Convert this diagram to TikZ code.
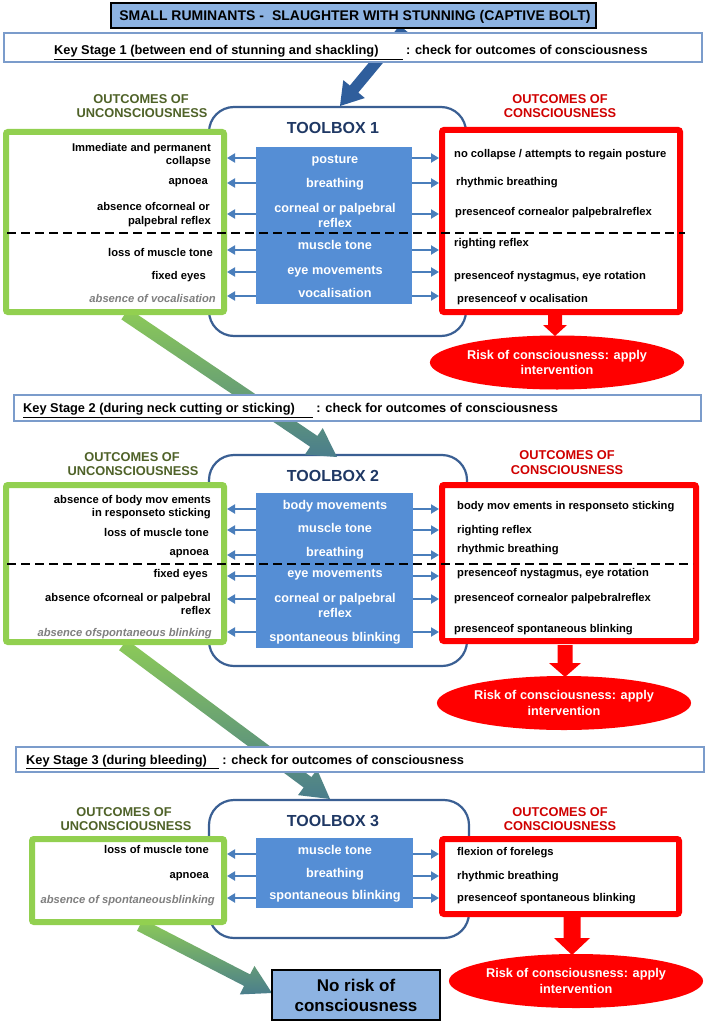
\documentclass[tikz,border=0pt]{standalone}
\usepackage{fontspec}
\setmainfont{Liberation Sans}
\usetikzlibrary{arrows.meta,shapes.geometric,calc}
\definecolor{tbblue}{HTML}{3A5F93}
\definecolor{navy}{HTML}{1F3864}
\definecolor{fillblue}{HTML}{558ED5}
\definecolor{arrblue}{HTML}{4A7EBB}
\definecolor{lgreen}{HTML}{92D050}
\definecolor{dgreen}{HTML}{4F6228}
\definecolor{hred}{HTML}{D00000}
\definecolor{boxred}{HTML}{FF0000}
\definecolor{titlefill}{HTML}{8DB3E2}
\definecolor{ksline}{HTML}{7B9CCB}
\definecolor{bigblue}{HTML}{2F5E9C}
\definecolor{agreen}{HTML}{8DCB57}
\definecolor{arrteal}{HTML}{4A7D8C}
\definecolor{gtext}{HTML}{7F7F7F}
\newcommand{\myfs}[1]{\fontsize{#1}{#1}\selectfont\bfseries}
% #1 options, #2 from, #3 to, #4 shaft half width, #5 head half width, #6 head length
\newcommand{\fatarrow}[6]{%
  \coordinate (fa-c) at ($(#3)!#6!(#2)$);
  \path[#1] ($(#2)!#4!90:(#3)$) -- ($(fa-c)!#4!90:(#3)$) -- ($(fa-c)!#5!90:(#3)$) -- (#3)
    -- ($(fa-c)!#5!-90:(#3)$) -- ($(fa-c)!#4!-90:(#3)$) -- ($(#2)!#4!-90:(#3)$) -- cycle;}
\tikzset{
  ltxt/.style={inner sep=0, anchor=base east, yshift=-4pt, font=\myfs{11.2}},
  rtxt/.style={inner sep=0, anchor=base west, yshift=-4pt, font=\myfs{11.2}},
  gtxt/.style={inner sep=0, anchor=base east, yshift=-4pt, font=\myfs{11.2}\itshape, text=gtext},
  blbl/.style={inner sep=0, anchor=base, yshift=-4.5pt, font=\myfs{12.7}, text=white},
  hdg/.style={inner sep=0, anchor=base, yshift=-4.6pt, font=\myfs{12.8}, text=dgreen},
  hdr/.style={inner sep=0, anchor=base, yshift=-4.6pt, font=\myfs{12.8}, text=hred},
  tbt/.style={inner sep=0, anchor=base, yshift=-5.7pt, font=\myfs{16}, text=navy},
  kst/.style={inner sep=0, anchor=base west, yshift=-4.6pt, font=\myfs{12.8}},
  tbox/.style={draw=tbblue, line width=2.2pt, rounded corners=25pt, fill=white, inner sep=0},
  bluerect/.style={fill=fillblue, inner sep=0},
  gbox/.style={draw=lgreen, line width=6pt, fill=white, rounded corners=2pt, inner sep=0},
  rbox/.style={draw=boxred, line width=6pt, fill=white, rounded corners=2pt, inner sep=0},
  ksbox/.style={draw=ksline, line width=2pt, fill=white, inner sep=0},
  sarr/.style={draw=arrblue, line width=2.4pt, -{Triangle[width=9pt,length=8pt]}},
  dline/.style={draw=black, line width=2.5pt, dash pattern=on 9pt off 5pt},
  risk/.style={ellipse, fill=boxred, text=white, font=\myfs{12.7}, align=center, inner sep=0,
    minimum width=234pt, minimum height=54pt},
  darkbox/.style={draw=black, line width=2pt, fill=titlefill, inner sep=0},
  greenshade/.style={top color=agreen, bottom color=arrteal},
}
\begin{document}
\begin{tikzpicture}[x=1pt,y=-1pt]
\useasboundingbox (0,0) rectangle (709,1024);
\fill[white] (0,0) rectangle (709,1024);

% toolboxes
\node[tbox, minimum width=257pt, minimum height=229pt] (t1) at (337.5,221.5) {};
\node[tbox, minimum width=258pt, minimum height=211pt] (t2) at (338,560.5) {};
\node[tbox, minimum width=260pt, minimum height=138pt] (t3) at (339,869) {};

% big arrows
\coordinate (bs) at (404,29);
\coordinate (bt) at (340,106);
\fatarrow{fill=bigblue}{bs}{bt}{5.5pt}{14pt}{22pt}
\coordinate (g1s) at (125,314);
\coordinate (g1t) at (337,457);
\fatarrow{greenshade}{g1s}{g1t}{6.5pt}{16pt}{28pt}
\coordinate (g2s) at (123,645);
\coordinate (g2t) at (330,799);
\fatarrow{greenshade}{g2s}{g2t}{6.5pt}{16pt}{28pt}
\coordinate (g3s) at (140,925);
\coordinate (g3t) at (272,993);
\fatarrow{greenshade}{g3s}{g3t}{6.5pt}{16pt}{28pt}

% title and key stage boxes
\node[darkbox, minimum width=485pt, minimum height=25pt] (title) at (353.5,15.5) {};
\node[inner sep=0, anchor=base, yshift=-5pt, font=\myfs{14}] (titlet) at (355,16)
  {SMALL RUMINANTS -\hspace{8pt}SLAUGHTER WITH STUNNING (CAPTIVE BOLT)};
\node[ksbox, minimum width=698pt, minimum height=29pt] (ks1) at (352.5,47.5) {};
\node[kst] (ks1t) at (54,50)
  {\underline{Key Stage 1 (between end of stunning and shackling)\hspace*{24pt}} : check for outcomes of consciousness};
\node[ksbox, minimum width=687pt, minimum height=26pt] (ks2) at (357.5,408) {};
\node[kst] (ks2t) at (23,408)
  {\underline{Key Stage 2 (during neck cutting or sticking)\hspace*{18pt}} : check for outcomes of consciousness};
\node[ksbox, minimum width=688pt, minimum height=25pt] (ks3) at (360,759.5) {};
\node[kst] (ks3t) at (26,759.5)
  {\underline{Key Stage 3 (during bleeding)\hspace*{12pt}} : check for outcomes of consciousness};

% outcome boxes
\node[gbox, minimum width=218pt, minimum height=180pt] (g1) at (115,222) {};
\node[gbox, minimum width=218pt, minimum height=157pt] (g2) at (115,563.5) {};
\node[gbox, minimum width=192pt, minimum height=83pt] (g3) at (128,880.5) {};
\node[rbox, minimum width=238pt, minimum height=182pt] (r1) at (561,221) {};
\node[rbox, minimum width=254pt, minimum height=156pt] (r2) at (569,563) {};
\node[rbox, minimum width=237pt, minimum height=75pt] (r3) at (560.5,876.5) {};

% blue tool rectangles
\node[bluerect, minimum width=156pt, minimum height=157pt] (b1) at (334,225.5) {};
\node[bluerect, minimum width=157pt, minimum height=155pt] (b2) at (334.5,570.5) {};
\node[bluerect, minimum width=157pt, minimum height=70pt] (b3) at (334.5,873) {};

% headers
\node[hdg] (gh1a) at (141,99) {OUTCOMES OF};
\node[hdg] (gh1b) at (142,113) {UNCONSCIOUSNESS};
\node[hdr] (rh1a) at (560,99) {OUTCOMES OF};
\node[hdr] (rh1b) at (560,113) {CONSCIOUSNESS};
\node[hdg] (gh2a) at (132,457) {OUTCOMES OF};
\node[hdg] (gh2b) at (133,471) {UNCONSCIOUSNESS};
\node[hdr] (rh2a) at (567,455) {OUTCOMES OF};
\node[hdr] (rh2b) at (567,470) {CONSCIOUSNESS};
\node[hdg] (gh3a) at (124,812) {OUTCOMES OF};
\node[hdg] (gh3b) at (126,826) {UNCONSCIOUSNESS};
\node[hdr] (rh3a) at (560,812) {OUTCOMES OF};
\node[hdr] (rh3b) at (560,826) {CONSCIOUSNESS};
\node[tbt] (tb1t) at (333,128) {TOOLBOX 1};
\node[tbt] (tb2t) at (333,476) {TOOLBOX 2};
\node[tbt] (tb3t) at (333,821) {TOOLBOX 3};

% small arrows
\foreach \yy in {158,183,214,250,272,296} {
  \draw[sarr] (b1.west |- 0,\yy) -- (g1.east |- 0,\yy);
  \draw[sarr] (b1.east |- 0,\yy) -- (r1.west |- 0,\yy);
}
\foreach \yy in {509,530,555,576,599,632} {
  \draw[sarr] (b2.west |- 0,\yy) -- (g2.east |- 0,\yy);
  \draw[sarr] (b2.east |- 0,\yy) -- (r2.west |- 0,\yy);
}
\foreach \yy in {854,876,898} {
  \draw[sarr] (b3.west |- 0,\yy) -- (g3.east |- 0,\yy);
  \draw[sarr] (b3.east |- 0,\yy) -- (r3.west |- 0,\yy);
}

% blue labels
\node[blbl] (b1a) at (335,159) {posture};
\node[blbl] (b1b) at (335,183) {breathing};
\node[blbl] (b1c) at (335,208) {corneal or palpebral};
\node[blbl] (b1d) at (335,223) {reflex};
\node[blbl] (b1e) at (335,245) {muscle tone};
\node[blbl] (b1f) at (335,270) {eye movements};
\node[blbl] (b1g) at (335,293) {vocalisation};
\node[blbl] (b2a) at (335,505) {body movements};
\node[blbl] (b2b) at (335,528) {muscle tone};
\node[blbl] (b2c) at (335,552) {breathing};
\node[blbl] (b2d) at (335,573) {eye movements};
\node[blbl] (b2e) at (335,598) {corneal or palpebral};
\node[blbl] (b2f) at (335,613) {reflex};
\node[blbl] (b2g) at (335,637) {spontaneous blinking};
\node[blbl] (b3a) at (335,850) {muscle tone};
\node[blbl] (b3b) at (335,873) {breathing};
\node[blbl] (b3c) at (335,895) {spontaneous blinking};

% left texts
\node[ltxt] (l1a) at (211,148) {Immediate and permanent};
\node[ltxt] (l1b) at (211,161) {collapse};
\node[ltxt] (l1c) at (208,181) {apnoea};
\node[ltxt] (l1d) at (210,207) {absence ofcorneal or};
\node[ltxt] (l1e) at (211,221) {palpebral reflex};
\node[ltxt] (l1f) at (213,252) {loss of muscle tone};
\node[ltxt] (l1g) at (206,275) {fixed eyes};
\node[gtxt] (l1h) at (216,298) {absence of vocalisation};
\node[ltxt] (l2a) at (211,499) {absence of body mov ements};
\node[ltxt] (l2b) at (211,512) {in responseto sticking};
\node[ltxt] (l2c) at (209,532) {loss of muscle tone};
\node[ltxt] (l2d) at (209,551) {apnoea};
\node[ltxt] (l2e) at (208,573) {fixed eyes};
\node[ltxt] (l2f) at (211,597) {absence ofcorneal or palpebral};
\node[ltxt] (l2g) at (211,610) {reflex};
\node[gtxt] (l2h) at (212,632) {absence ofspontaneous blinking};
\node[ltxt] (l3a) at (209,849) {loss of muscle tone};
\node[ltxt] (l3b) at (209,874) {apnoea};
\node[gtxt] (l3c) at (215,899) {absence of spontaneousblinking};

% right texts
\node[rtxt] (r1a) at (454,154) {no collapse / attempts to regain posture};
\node[rtxt] (r1b) at (456,182) {rhythmic breathing};
\node[rtxt] (r1c) at (455,212) {presenceof cornealor palpebralreflex};
\node[rtxt] (r1d) at (454,243) {righting reflex};
\node[rtxt] (r1e) at (454,275) {presenceof nystagmus, eye rotation};
\node[rtxt] (r1f) at (457,298) {presenceof v ocalisation};
\node[rtxt] (r2a) at (457,505) {body mov ements in responseto sticking};
\node[rtxt] (r2b) at (457,529) {righting reflex};
\node[rtxt] (r2c) at (457,548) {rhythmic breathing};
\node[rtxt] (r2d) at (457,572) {presenceof nystagmus, eye rotation};
\node[rtxt] (r2e) at (454,597) {presenceof cornealor palpebralreflex};
\node[rtxt] (r2f) at (454,628) {presenceof spontaneous blinking};
\node[rtxt] (r3a) at (457,851) {flexion of forelegs};
\node[rtxt] (r3b) at (457,875) {rhythmic breathing};
\node[rtxt] (r3c) at (457,897) {presenceof spontaneous blinking};

% dashed separators
\coordinate (d1s) at (7,233);
\coordinate (d1e) at (685,233);
\draw[dline] (d1s) -- (d1e);
\coordinate (d2s) at (7,564);
\coordinate (d2e) at (693,564);
\draw[dline] (d2s) -- (d2e);

% risk ellipses and red arrows
\node[risk] (e1) at (557,362.5) {Risk of consciousness: apply\\[2.5pt]intervention};
\node[risk] (e2) at (564,703) {Risk of consciousness: apply\\[2.5pt]intervention};
\node[risk] (e3) at (576,981) {Risk of consciousness: apply\\[2.5pt]intervention};
\coordinate (a1s) at (555,315);
\coordinate (a1t) at (555,336);
\fatarrow{fill=boxred}{a1s}{a1t}{7pt}{12pt}{11pt}
\coordinate (a2s) at (565,645);
\coordinate (a2t) at (565,677);
\fatarrow{fill=boxred}{a2s}{a2t}{7.5pt}{16pt}{14pt}
\coordinate (a3s) at (572,917);
\coordinate (a3t) at (572,955);
\fatarrow{fill=boxred}{a3s}{a3t}{8.5pt}{18pt}{17pt}

% final box
\node[darkbox, minimum width=168pt, minimum height=50pt] (norisk) at (356,995) {};
\node[inner sep=0, anchor=base, yshift=-6pt, font=\myfs{17}] (nr1) at (356,985) {No risk of};
\node[inner sep=0, anchor=base, yshift=-6pt, font=\myfs{17}] (nr2) at (356,1005) {consciousness};
\end{tikzpicture}
\end{document}
